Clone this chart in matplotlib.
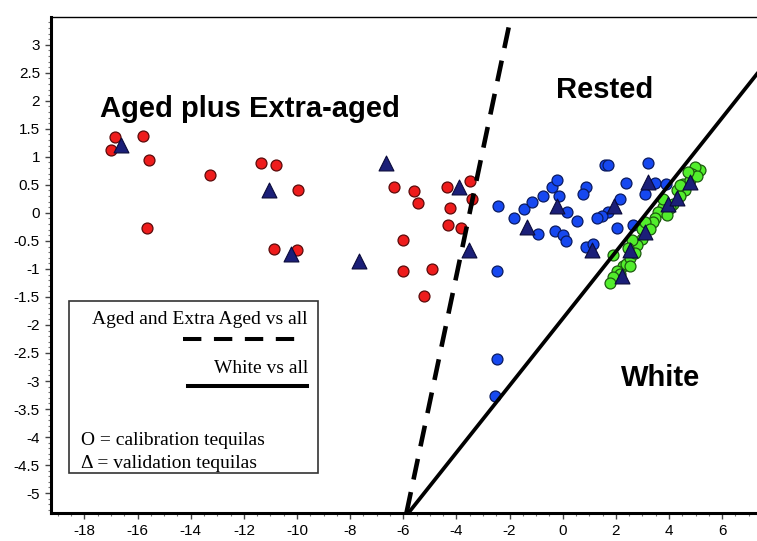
import numpy as np
import matplotlib
matplotlib.use("Agg")
import matplotlib.pyplot as plt
from matplotlib.patches import Rectangle
from matplotlib.ticker import MultipleLocator

# calibration tequilas, aged + extra-aged (red)
red_x = [-16.84, -17.0, -15.78, -15.59, -13.27, -15.63, -11.36, -10.79, -9.95, -10.85,
         -10.01, -6.37, -5.58, -5.43, -4.34, -3.49, -3.42, -4.24, -4.33, -3.83,
         -6.0, -6.0, -4.91, -5.24]
red_y = [1.36, 1.12, 1.37, 0.94, 0.67, -0.27, 0.89, 0.85, 0.40, -0.65,
         -0.67, 0.47, 0.385, 0.18, 0.47, 0.57, 0.24, 0.09, -0.22, -0.27,
         -0.49, -1.03, -1.0, -1.48]

# calibration tequilas, rested (blue)
blue_x = [-2.42, -2.48, -2.46, -2.55, -1.83, -1.46, -1.14, -0.75, -0.41, -0.22,
          -0.16, -0.92, -0.29, 0.15, 0.02, 0.13, 1.59, 1.72, 3.22, 0.88,
          0.78, 2.37, 3.48, 3.89, 3.10, 0.53, 2.16, 1.72, 1.47, 1.28,
          2.03, 2.63, 0.88, 1.15]
blue_y = [0.13, -1.03, -2.61, -3.27, -0.10, 0.075, 0.19, 0.30, 0.47, 0.59,
          0.30, -0.37, -0.33, 0.015, -0.40, -0.50, 0.85, 0.85, 0.89, 0.46,
          0.33, 0.53, 0.53, 0.52, 0.33, -0.15, 0.25, 0.015, -0.06, -0.10,
          -0.27, -0.22, -0.60, -0.55]

# calibration tequilas, white (green)
green_x = [5.17, 4.98, 4.85, 4.54, 4.60, 4.29, 4.16, 3.78, 3.60, 3.47,
           3.41, 2.97, 2.78, 4.04, 3.78, 2.97, 2.60, 1.90, 2.28, 2.03,
           2.38, 2.16, 1.90, 1.78, 2.53, 3.10, 4.41, 4.79, 5.05, 4.71,
           3.92, 3.28, 2.72, 2.46, 2.53, 4.41]
green_y = [0.77, 0.82, 0.70, 0.52, 0.40, 0.40, 0.16, 0.10, 0.01, -0.10,
           -0.16, -0.46, -0.58, 0.08, 0.25, -0.28, -0.49, -0.76, -0.94, -1.03,
           -0.92, -1.09, -1.15, -1.26, -0.80, -0.17, 0.31, 0.58, 0.65, 0.73,
           -0.03, -0.28, -0.71, -0.62, -0.94, 0.49]

# validation tequilas (triangles)
tri_x = [-16.63, -11.05, -10.22, -7.65, -6.65, -3.89, -3.51, -1.33, -0.22, 1.09,
         1.91, 3.19, 2.22, 2.54, 3.10, 3.95, 4.31, 4.77]
tri_y = [1.21, 0.40, -0.73, -0.85, 0.89, 0.47, -0.67, -0.25, 0.13, -0.67,
         0.12, 0.55, -1.12, -0.67, -0.34, 0.15, 0.27, 0.55]

# class boundaries
aged_line_x = [-5.88, -1.95]
aged_line_y = [-5.35, 3.5]
white_line_x = [-5.8, 7.31]
white_line_y = [-5.35, 2.48]

xlim = (-19.26, 7.31)
ylim = (-5.35, 3.49)

sans = ["Liberation Sans", "DejaVu Sans"]
serif = ["Liberation Serif", "DejaVu Serif"]

fig = plt.figure(figsize=(7.57, 5.41), dpi=100)
ax = fig.add_axes([51 / 757, 28.3 / 541, 706 / 757, 495.4 / 541])

ax.scatter(red_x, red_y, s=62, c="#ee1c1c", edgecolors="#5a0a0a", linewidths=0.9, zorder=3)
ax.scatter(blue_x, blue_y, s=62, c="#1648f0", edgecolors="#0a1a60", linewidths=0.9, zorder=3)
ax.scatter(green_x, green_y, s=62, c="#52ee2c", edgecolors="#1d5a10", linewidths=0.9, zorder=3)
ax.scatter(tri_x, tri_y, s=115, marker="^", c="#1b1f78", edgecolors="#0a0a3a",
           linewidths=0.8, zorder=4)

ax.plot(aged_line_x, aged_line_y, color="black", lw=3.3, linestyle=(0, (4.6, 2.8)),
        solid_capstyle="butt", dash_capstyle="butt", zorder=5)
ax.plot(white_line_x, white_line_y, color="black", lw=2.7, zorder=5)

# region labels
ax.text(-17.41, 1.715, "Aged plus Extra-aged", fontsize=21, fontweight="bold",
        family=sans, ha="left", va="baseline")
ax.text(-0.25, 2.05, "Rested", fontsize=21, fontweight="bold", family=sans,
        ha="left", va="baseline")
ax.text(2.19, -3.09, "White", fontsize=21, fontweight="bold", family=sans,
        ha="left", va="baseline")

# hand drawn legend box
ax.add_patch(Rectangle((-18.6, -4.65), 9.39, 3.08, fill=False, edgecolor="#333333",
                       lw=1.2, zorder=6))
ax.text(-9.59, -1.91, "Aged and Extra Aged vs all", fontsize=14, family=serif,
        ha="right", va="center", zorder=7)
ax.plot([-14.28, -9.95], [-2.25, -2.25], color="black", lw=2.9,
        linestyle=(0, (4.56, 3.12)), dash_capstyle="butt", zorder=7)
ax.text(-9.59, -2.77, "White vs all", fontsize=14, family=serif,
        ha="right", va="center", zorder=7)
ax.plot([-14.09, -9.61], [-3.09, -3.09], color="black", lw=2.9, zorder=7)
ax.text(-18.12, -4.07, "O = calibration tequilas", fontsize=14, family=serif,
        ha="left", va="center", zorder=7)
ax.text(-18.12, -4.47, "\u0394 = validation tequilas", fontsize=14, family=serif,
        ha="left", va="center", zorder=7)

ax.set_xlim(*xlim)
ax.set_ylim(*ylim)
ax.xaxis.set_major_locator(MultipleLocator(2))
ax.xaxis.set_minor_locator(MultipleLocator(0.5))
ax.yaxis.set_major_locator(MultipleLocator(0.5))
ax.yaxis.set_minor_locator(MultipleLocator(0.1))
ax.yaxis.set_major_formatter(plt.FuncFormatter(lambda v, p: f"{v:g}"))
ax.xaxis.set_major_formatter(plt.FuncFormatter(lambda v, p: f"{v:g}"))

ax.spines["right"].set_visible(False)
ax.spines["left"].set_linewidth(2.2)
ax.spines["bottom"].set_linewidth(2.2)
ax.spines["top"].set_linewidth(1.0)
ax.tick_params(which="major", direction="out", length=4, width=1, labelsize=11, color="#444444")
ax.tick_params(which="minor", direction="out", length=2, width=0.8, color="#777777")
ax.tick_params(axis="x", which="major", pad=4)
ax.tick_params(axis="y", which="major", pad=4)
for lab in ax.get_xticklabels() + ax.get_yticklabels():
    lab.set_family(sans)

fig.savefig("out.png", dpi=100)
